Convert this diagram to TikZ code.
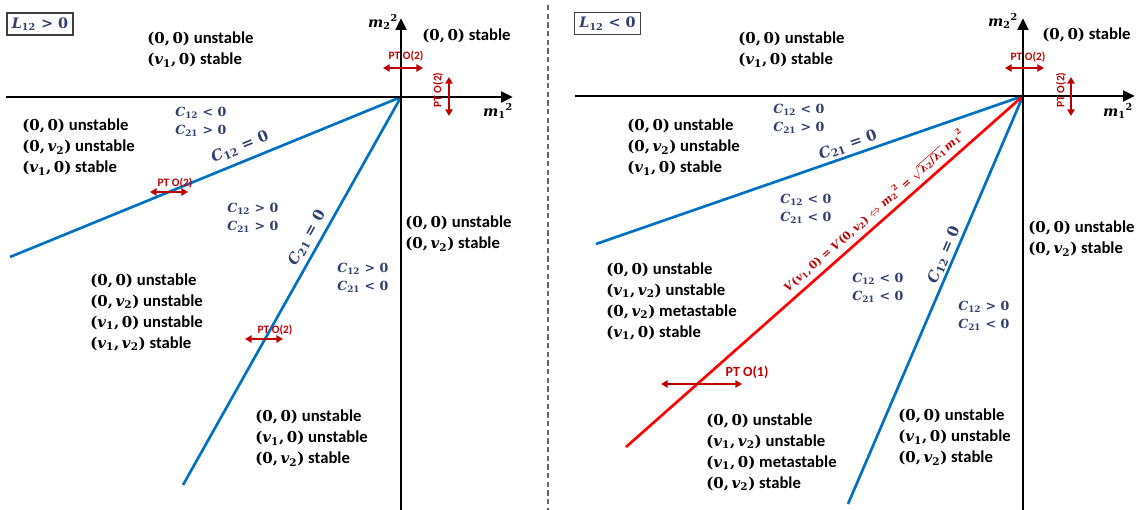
\documentclass[tikz,border=0pt]{standalone}
\usepackage[no-math]{fontspec}
\setmainfont{Carlito}
\newfontfamily\mserif[Scale=0.9]{DejaVu Serif}
\usetikzlibrary{arrows.meta}
\definecolor{navy}{RGB}{47,64,112}
\definecolor{lineblue}{RGB}{0,112,192}
\definecolor{ptred}{RGB}{192,0,0}
\newcommand{\M}[1]{{\mserif\bfseries #1}}
\newcommand{\I}[1]{\textit{#1}}
\newcommand{\sbs}[1]{\textsubscript{#1}}
\newcommand{\spp}[1]{\textsuperscript{#1}}
\newcommand{\vo}{\I{v}\sbs{1}}
\newcommand{\vt}{\I{v}\sbs{2}}
\newcommand{\pair}[2]{\M{(#1,\,#2)}}
\begin{document}
\begin{tikzpicture}[x=0.75pt,y=-0.75pt,
 axis/.style={line width=2.2pt, -{Triangle[length=9pt,width=8pt]}},
 bline/.style={lineblue, line width=2pt},
 rline/.style={red, line width=2pt},
 pt/.style={ptred, line width=1.6pt, {Triangle[length=5pt,width=5.5pt]}-{Triangle[length=5pt,width=5.5pt]}},
 ptlab/.style={ptred, inner sep=0, font=\fontsize{8.5}{10}\selectfont\bfseries},
 state/.style={anchor=west, align=left, inner sep=0, font=\fontsize{12.5}{15.75}\selectfont\bfseries},
 cond/.style={anchor=west, align=left, inner sep=0, text=navy, font=\fontsize{10.5}{13.5}\selectfont},
 linelab/.style={text=navy, inner sep=0, font=\fontsize{12.5}{14}\selectfont},
 redlab/.style={text=ptred, inner sep=0, font=\fontsize{9.2}{12}\selectfont},
 axlab/.style={inner sep=0, font=\fontsize{12}{14}\selectfont},
 signbox/.style={draw=black!75, line width=0.8pt, text=navy, minimum width=49.5pt, minimum height=16.5pt, inner sep=0, font=\fontsize{12}{14}\selectfont}
]
\useasboundingbox (0,0) rectangle (1142,510);
% separator
\coordinate (sep0) at (548,5); \coordinate (sep1) at (548,510);
\draw[black!60, line width=1pt, dash pattern=on 4pt off 2.5pt] (sep0) -- (sep1);

% ================= LEFT PANEL =================
\node[signbox] (boxL) at (40,24) {\M{\I{L}\sbs{12} > 0}};
\coordinate (OL) at (401,97);
\coordinate (xl0) at (6,97); \coordinate (xl1) at (513,97);
\coordinate (yl0) at (401,510); \coordinate (yl1) at (401,18);
\coordinate (aL) at (10,257); \coordinate (bL) at (183,485);
\draw[bline] (OL) -- (aL);
\draw[bline] (OL) -- (bL);
\draw[axis] (xl0) -- (xl1);
\draw[axis] (yl0) -- (yl1);
\node[axlab] (m1L) at (498,111) {\M{\I{m}\sbs{1}\spp{2}}};
\node[axlab] (m2L) at (383,22) {\M{\I{m}\sbs{2}\spp{2}}};
\node[linelab, rotate=22.3] (c12L) at (240,147) {\M{\I{C}\sbs{12} = 0}};
\node[linelab, rotate=60.7] (c21L) at (307,238) {\M{\I{C}\sbs{21} = 0}};

\node[state] (sL1) at (147,49.5) {\pair{0}{0} unstable\\\pair{\vo}{0} stable};
\node[state] (sL2) at (22,147) {\pair{0}{0} unstable\\\pair{0}{\vt} unstable\\\pair{\vo}{0} stable};
\node[state] (sL3) at (90,312) {\pair{0}{0} unstable\\\pair{0}{\vt} unstable\\\pair{\vo}{0} unstable\\\pair{\vo}{\vt} stable};
\node[state] (sL4) at (255,438) {\pair{0}{0} unstable\\\pair{\vo}{0} unstable\\\pair{0}{\vt} stable};
\node[state] (sL5) at (405,233.5) {\pair{0}{0} unstable\\\pair{0}{\vt} stable};
\node[state] (sL6) at (422,36) {\pair{0}{0} stable};

\node[cond] (cL1) at (175,122) {\M{\I{C}\sbs{12} < 0}\\\M{\I{C}\sbs{21} > 0}};
\node[cond] (cL2) at (227,218) {\M{\I{C}\sbs{12} > 0}\\\M{\I{C}\sbs{21} > 0}};
\node[cond] (cL3) at (337,278) {\M{\I{C}\sbs{12} > 0}\\\M{\I{C}\sbs{21} < 0}};

\coordinate (pL1a) at (150,192); \coordinate (pL1b) at (188,192);
\draw[pt] (pL1a) -- (pL1b);
\node[ptlab] (tL1) at (175,183) {PT O(2)};
\coordinate (pL2a) at (245,339); \coordinate (pL2b) at (283,339);
\draw[pt] (pL2a) -- (pL2b);
\node[ptlab] (tL2) at (275,330) {PT O(2)};
\coordinate (pL3a) at (383,68); \coordinate (pL3b) at (423,68);
\draw[pt] (pL3a) -- (pL3b);
\node[ptlab] (tL3) at (406,56) {PT O(2)};
\coordinate (pL4a) at (449,77); \coordinate (pL4b) at (449,116);
\draw[pt] (pL4a) -- (pL4b);
\node[ptlab, rotate=90] (tL4) at (438,90) {PT O(2)};

% ================= RIGHT PANEL =================
\node[signbox] (boxR) at (607.5,23.5) {\M{\I{L}\sbs{12} < 0}};
\coordinate (OR) at (1023,96);
\coordinate (xr0) at (575,96); \coordinate (xr1) at (1135,96);
\coordinate (yr0) at (1023,510); \coordinate (yr1) at (1023,18);
\coordinate (aR) at (596,244); \coordinate (bR) at (848,504);
\coordinate (rR) at (626,447);
\draw[bline] (OR) -- (aR);
\draw[bline] (OR) -- (bR);
\draw[rline] (OR) -- (rR);
\draw[axis] (xr0) -- (xr1);
\draw[axis] (yr0) -- (yr1);
\node[axlab] (m1R) at (1118,111) {\M{\I{m}\sbs{1}\spp{2}}};
\node[axlab] (m2R) at (1003,21) {\M{\I{m}\sbs{2}\spp{2}}};
\node[linelab, rotate=19.1] (c21R) at (848,145) {\M{\I{C}\sbs{21} = 0}};
\node[linelab, rotate=66.8] (c12R) at (944,255) {\M{\I{C}\sbs{12} = 0}};
\node[redlab, rotate=41.5] (vR) at (874,211) {\M{\I{V}(\vo,\,0) = \I{V}(0,\,\vt) $\Leftrightarrow$ \I{m}\sbs{2}\spp{2} = $\sqrt{\hbox{\mserif λ\sbs{2}/λ\sbs{1}}}$\,\I{m}\sbs{1}\spp{2}}};

\node[state] (sR1) at (738,49.5) {\pair{0}{0} unstable\\\pair{\vo}{0} stable};
\node[state] (sR2) at (627,147) {\pair{0}{0} unstable\\\pair{0}{\vt} unstable\\\pair{\vo}{0} stable};
\node[state] (sR3) at (606,301) {\pair{0}{0} unstable\\\pair{\vo}{\vt} unstable\\\pair{0}{\vt} metastable\\\pair{\vo}{0} stable};
\node[state] (sR4) at (706,452) {\pair{0}{0} unstable\\\pair{\vo}{\vt} unstable\\\pair{\vo}{0} metastable\\\pair{0}{\vt} stable};
\node[state] (sR5) at (898,437) {\pair{0}{0} unstable\\\pair{\vo}{0} unstable\\\pair{0}{\vt} stable};
\node[state] (sR6) at (1028,238.5) {\pair{0}{0} unstable\\\pair{0}{\vt} stable};
\node[state] (sR7) at (1042,35) {\pair{0}{0} stable};

\node[cond] (cR1) at (773,119) {\M{\I{C}\sbs{12} < 0}\\\M{\I{C}\sbs{21} > 0}};
\node[cond] (cR2) at (780,209) {\M{\I{C}\sbs{12} < 0}\\\M{\I{C}\sbs{21} < 0}};
\node[cond] (cR3) at (852,288) {\M{\I{C}\sbs{12} < 0}\\\M{\I{C}\sbs{21} < 0}};
\node[cond] (cR4) at (958,316) {\M{\I{C}\sbs{12} > 0}\\\M{\I{C}\sbs{21} < 0}};

\coordinate (pR1a) at (661,384); \coordinate (pR1b) at (742,384);
\draw[pt] (pR1a) -- (pR1b);
\node[ptlab, font=\fontsize{10.5}{12}\selectfont\bfseries] (tR1) at (747,372) {PT O(1)};
\coordinate (pR3a) at (1005,68); \coordinate (pR3b) at (1044,68);
\draw[pt] (pR3a) -- (pR3b);
\node[ptlab] (tR3) at (1028,57) {PT O(2)};
\coordinate (pR4a) at (1071,77); \coordinate (pR4b) at (1071,116);
\draw[pt] (pR4a) -- (pR4b);
\node[ptlab, rotate=90] (tR4) at (1061,90) {PT O(2)};
\end{tikzpicture}
\end{document}
